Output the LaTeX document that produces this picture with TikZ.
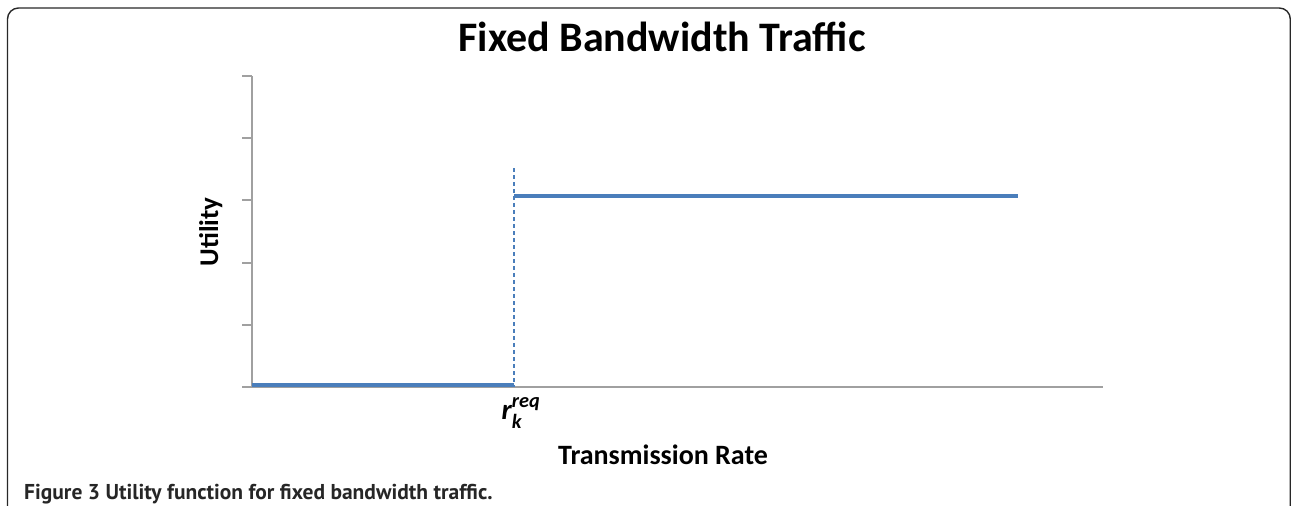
\documentclass[tikz,border=0pt]{standalone}
\usepackage{fontspec}
\usepackage{amsmath}
\setmainfont{Carlito}
\newfontfamily\capfont{PT Sans}
\definecolor{chartblue}{RGB}{74,126,187}
\definecolor{axisgray}{RGB}{160,160,160}
\definecolor{framegray}{RGB}{40,40,40}
\tikzset{
  framebox/.style={draw=framegray, line width=1.4pt, rounded corners=11pt},
  axisline/.style={draw=axisgray, line width=2pt},
  tickline/.style={draw=axisgray, line width=2pt},
  stepline/.style={draw=chartblue, line width=4.5pt},
  reqline/.style={draw=chartblue, line width=1.2pt, dash pattern=on 4pt off 3pt},
  titletext/.style={font=\fontsize{42}{50}\selectfont\bfseries, anchor=base, inner sep=0pt},
  labeltext/.style={font=\fontsize{28}{32}\selectfont\bfseries, anchor=base, inner sep=0pt},
  captext/.style={font=\capfont\fontsize{21.5}{25}\selectfont\bfseries, anchor=base west, inner sep=0pt, text=black!85}
}
\begin{document}
\begin{tikzpicture}[x=1pt,y=-1pt]
\useasboundingbox (0,0) rectangle (1291,506);
% frame
\draw[framebox] (7.5,507) -- (7.5,8) -- (1290.3,8) -- (1290.3,507);
% axis coordinates
\coordinate (o) at (252,387);
\coordinate (ytop) at (252,76);
\coordinate (xstart) at (242,387);
\coordinate (xend) at (1103,387);
\draw[axisline] (o) -- (ytop);
\draw[axisline] (xstart) -- (xend);
\foreach \yy in {76,138.2,200.4,262.6,324.8} {
  \draw[tickline] (242,\yy) -- (252,\yy);
}
% step function
\coordinate (lowstart) at (252,385);
\coordinate (req) at (514,385);
\coordinate (highstart) at (514,196);
\coordinate (highend) at (1018,196);
\coordinate (dashtop) at (514,168);
\coordinate (dashbot) at (514,387);
\draw[reqline] (dashtop) -- (dashbot);
\draw[stepline] (lowstart) -- (req);
\draw[stepline] (highstart) -- (highend);
% texts
\node[titletext] (title) at (662,51) {Fixed Bandwidth Traffic};
\node[labeltext] (xlabel) at (663,464) {Transmission Rate};
\node[labeltext, rotate=90, font=\fontsize{27}{32}\selectfont\bfseries] (ylabel) at (218,232) {Utility};
\node[font=\fontsize{29}{32}\selectfont, inner sep=0pt] (reqlabel) at (521,413)
  {$\text{\bfseries\itshape r}_{\text{\bfseries\itshape k}}^{\text{\bfseries\itshape req}}$};
\node[captext] (caption) at (24,499) {Figure 3 Utility function for fixed bandwidth traffic.};
\end{tikzpicture}
\end{document}
